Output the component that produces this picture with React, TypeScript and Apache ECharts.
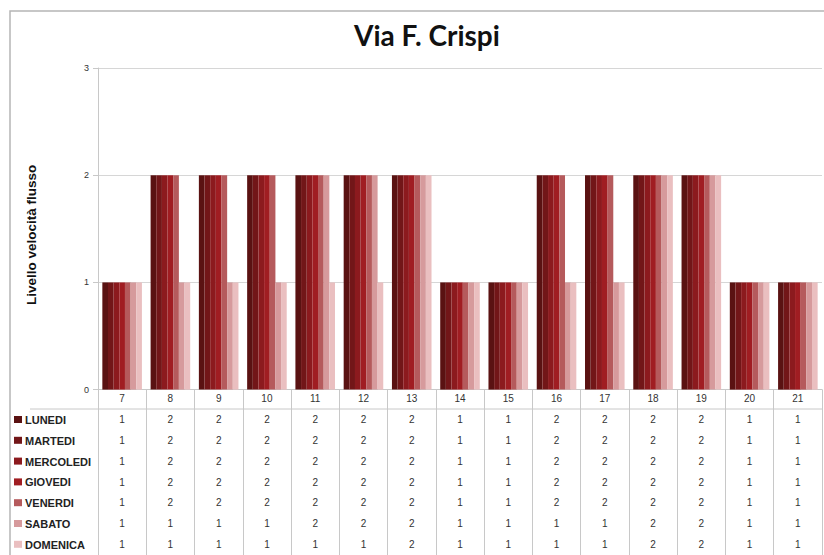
import React, { useEffect, useRef } from "react";
import * as echarts from "echarts";

const categories = ["7", "8", "9", "10", "11", "12", "13", "14", "15", "16", "17", "18", "19", "20", "21"];
const seriesNames = ["LUNEDI", "MARTEDI", "MERCOLEDI", "GIOVEDI", "VENERDI", "SABATO", "DOMENICA"];
const lunedi = [1, 2, 2, 2, 2, 2, 2, 1, 1, 2, 2, 2, 2, 1, 1];
const martedi = [1, 2, 2, 2, 2, 2, 2, 1, 1, 2, 2, 2, 2, 1, 1];
const mercoledi = [1, 2, 2, 2, 2, 2, 2, 1, 1, 2, 2, 2, 2, 1, 1];
const giovedi = [1, 2, 2, 2, 2, 2, 2, 1, 1, 2, 2, 2, 2, 1, 1];
const venerdi = [1, 2, 2, 2, 2, 2, 2, 1, 1, 2, 2, 2, 2, 1, 1];
const sabato = [1, 1, 1, 1, 2, 2, 2, 1, 1, 1, 1, 2, 2, 1, 1];
const domenica = [1, 1, 1, 1, 1, 1, 2, 1, 1, 1, 1, 2, 2, 1, 1];
const seriesValues = [lunedi, martedi, mercoledi, giovedi, venerdi, sabato, domenica];
const colors = ["#5a1212", "#721618", "#8c1a1e", "#a01d22", "#b55a5c", "#d69a9c", "#eabfc0"];
const yTicks = [0, 1, 2, 3];

const ROW_H = 20.8;
const FIRST_ROW_Y = 420;

export default function App() {
  const ref = useRef<HTMLDivElement>(null);
  useEffect(() => {
    if (!ref.current) return;
    const chart = echarts.init(ref.current, null, { renderer: "svg" });
    const legendGraphics: any[] = [];
    seriesNames.forEach((name, i) => {
      const cy = FIRST_ROW_Y + i * ROW_H;
      legendGraphics.push({
        type: "rect",
        shape: { x: 14, y: cy - 4, width: 8, height: 7 },
        style: { fill: colors[i] },
        silent: true,
      });
      legendGraphics.push({
        type: "text",
        x: 25,
        y: cy,
        style: {
          text: name,
          fill: "#222",
          font: "bold 11px 'Liberation Sans', Arial, sans-serif",
          verticalAlign: "middle",
          align: "left",
        },
        silent: true,
      });
    });
    const option = {
      animation: false,
      backgroundColor: "#ffffff",
      title: {
        text: "Via F. Crispi",
        left: 349,
        top: 16,
        textStyle: {
          fontFamily: "Lato, sans-serif",
          fontWeight: "bold",
          fontSize: 28,
          color: "#111",
        },
      },
      grid: { left: 98, right: 2, top: 68, bottom: 165, containLabel: false },
      xAxis: {
        type: "category",
        data: categories,
        axisLine: { show: true, lineStyle: { color: "#c8c8c8", width: 1 } },
        axisTick: { show: true, interval: 0, length: 170, lineStyle: { color: "#c8c8c8" } },
        axisLabel: {
          interval: 0,
          margin: -1,
          fontFamily: "Liberation Sans",
          fontSize: 10,
          lineHeight: ROW_H,
          color: "#333",
          formatter: (value: string, idx: number) =>
            [value, ...seriesValues.map((s) => String(s[idx]))].join("\n"),
        },
        splitLine: { show: false },
      },
      yAxis: {
        type: "value",
        min: yTicks[0],
        max: yTicks[yTicks.length - 1],
        interval: 1,
        name: "Livello velocità flusso",
        nameLocation: "middle",
        nameGap: 60,
        nameRotate: 90,
        nameTextStyle: {
          fontFamily: "Liberation Sans",
          fontWeight: "bold",
          fontSize: 13.5,
          color: "#111",
          padding: [0, 12, 0, 0],
        },
        axisLine: { show: true, lineStyle: { color: "#c8c8c8" } },
        axisTick: { show: true, length: 5, lineStyle: { color: "#c8c8c8" } },
        axisLabel: { fontFamily: "Liberation Sans", fontSize: 9, color: "#333", margin: 9 },
        splitLine: { show: true, lineStyle: { color: "#d6d6d6" } },
      },
      series: seriesNames.map((name, i) => ({
        name,
        type: "bar",
        data: seriesValues[i],
        barGap: "0%",
        barCategoryGap: "18%",
        itemStyle: { color: colors[i] },
      })),
      graphic: [
        {
          type: "rect",
          shape: { x: 10, y: 11, width: 830, height: 570 },
          style: { fill: "none", stroke: "#b5b5b5", lineWidth: 1.5 },
          z: -1,
          silent: true,
        },
        {
          type: "line",
          shape: { x1: 30, y1: 409, x2: 822, y2: 409 },
          style: { stroke: "#c8c8c8", lineWidth: 1 },
          silent: true,
        },
        ...legendGraphics,
      ],
    };
    chart.setOption(option as any);
    return () => chart.dispose();
  }, []);
  return (
    <div
      ref={ref}
      style={{ position: "fixed", left: 0, top: 0, width: 824, height: 555 }}
    />
  );
}
